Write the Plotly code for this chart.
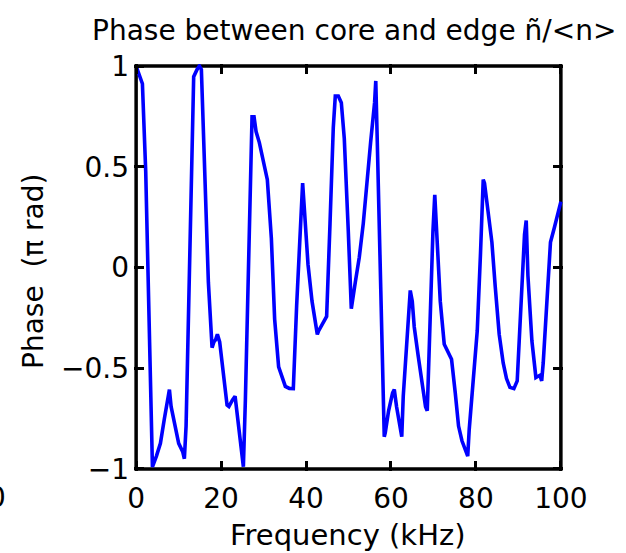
import plotly.graph_objects as go

# Frequency (kHz) and phase (pi rad)
freq_khz = [0, 0.54, 1.48, 2.26, 3.13, 3.84, 4.78, 5.72, 6.66, 7.44, 7.84, 8.24, 9.25, 10.02,
            10.96, 11.36, 11.76, 12.61, 13.55, 14.35, 14.89, 15.36, 16.05, 17.01, 17.88, 18.31,
            18.73, 19.13, 19.67, 20.47, 21.41, 21.84, 22.19, 22.66, 23.3, 23.91, 24.85, 25.25,
            25.72, 26.49, 27.29, 27.76, 28.24, 29.01, 29.95, 30.89, 31.84, 32.61, 33.55, 34.49,
            35.13, 36.07, 37.01, 37.79, 38.73, 39.2, 39.67, 40.47, 41.41, 42.19, 42.66, 42.96,
            43.91, 44.85, 45.65, 46.42, 46.89, 47.6, 48.31, 49.01, 49.95, 50.66, 51.6, 52.54,
            53.48, 54.26, 55.2, 56.14, 56.42, 56.78, 57.72, 58.42, 58.66, 59.44, 60.38, 60.78,
            61.32, 62.12, 62.54, 62.89, 63.84, 64.54, 65.01, 65.48, 66.42, 67.36, 68.14, 68.54,
            69.08, 69.88, 70.31, 70.82, 71.6, 72.54, 73.32, 74.26, 75.13, 75.91, 76.71, 77.65,
            78.07, 78.42, 79.36, 80.31, 81.08, 81.72, 82.02, 82.82, 83.76, 84.54, 85.48, 86.42,
            87.2, 88.0, 88.94, 89.72, 90.66, 91.44, 91.84, 92.24, 93.18, 94.12, 95.06, 95.48,
            95.84, 96.78, 97.55, 98.49, 99.44, 100.0]
phase = [1.0, 0.967, 0.912, 0.477, -0.348, -0.99, -0.936, -0.873, -0.749, -0.639, -0.606, -0.691,
         -0.804, -0.873, -0.914, -0.949, -0.787, 0.089, 0.947, 0.983, 1.0, 0.983, 0.546, -0.073,
         -0.398, -0.37, -0.358, -0.332, -0.369, -0.526, -0.683, -0.69, -0.674, -0.658, -0.639,
         -0.749, -0.898, -0.989, -0.658, 0.109, 0.748, 0.748, 0.675, 0.62, 0.53, 0.436, 0.145,
         -0.256, -0.493, -0.551, -0.59, -0.6, -0.601, -0.19, 0.254, 0.419, 0.271, 0.015, -0.167,
         -0.256, -0.332, -0.315, -0.28, -0.243, 0.219, 0.695, 0.851, 0.851, 0.818, 0.64, 0.18,
         -0.205, -0.073, 0.051, 0.219, 0.419, 0.62, 0.818, 0.926, 0.62, -0.147, -0.84, -0.82,
         -0.711, -0.622, -0.606, -0.691, -0.804, -0.84, -0.639, -0.315, -0.114, -0.167, -0.295,
         -0.441, -0.563, -0.691, -0.711, -0.295, 0.18, 0.361, 0.167, -0.167, -0.381, -0.419,
         -0.455, -0.622, -0.787, -0.86, -0.914, -0.936, -0.804, -0.584, -0.315, 0.071, 0.436,
         0.419, 0.271, 0.125, -0.094, -0.332, -0.474, -0.551, -0.595, -0.601, -0.563, -0.205,
         0.163, 0.233, -0.04, -0.365, -0.546, -0.535, -0.563, -0.474, -0.167, 0.125, 0.2, 0.271,
         0.327]

x_ticks = [0, 20, 40, 60, 80, 100]
x_tick_labels = ["0", "20", "40", "60", "80", "100"]
y_ticks = [-1, -0.5, 0, 0.5, 1]
y_tick_labels = ["\u22121", "\u22120.5", "0", "0.5", "1"]

FONT = "DejaVu Sans"
L, R, T, B = 134, 63, 64, 82
W, H = 626, 553
PW, PH = W - L - R, H - T - B

def px(xp):
    return (xp - L) / PW

def py(yp):
    return (H - B - yp) / PH

fig = go.Figure()
fig.add_trace(go.Scatter(x=freq_khz, y=phase, mode="lines",
                         line=dict(color="#0000FF", width=3.6), showlegend=False))

fig.add_shape(type="rect", xref="x", yref="y", x0=0, x1=100, y0=-1, y1=1,
              line=dict(color="black", width=3.5), layer="below")

axis_common = dict(showgrid=False, zeroline=False, showline=False,
                   ticks="inside", ticklen=10, tickwidth=3, tickcolor="black",
                   mirror="ticks", tickfont=dict(family=FONT, size=28, color="black"))

fig.update_xaxes(range=[-0.5, 100.5], tickvals=x_ticks, ticktext=x_tick_labels,
                 ticklabelstandoff=8, **axis_common)
fig.update_yaxes(range=[-1.01, 1.01], tickvals=y_ticks, ticktext=y_tick_labels,
                 ticklabelstandoff=4, **axis_common)

fig.add_annotation(text="Phase between core and edge \u00f1/<n>".replace("<", "&lt;").replace(">", "&gt;"),
                   xref="paper", yref="paper", x=px(354), y=py(30),
                   xanchor="center", yanchor="middle", showarrow=False,
                   font=dict(family=FONT, size=28, color="black"))
fig.add_annotation(text="Frequency (kHz)", xref="paper", yref="paper",
                   x=px(347.5), y=py(535), xanchor="center", yanchor="middle",
                   showarrow=False, font=dict(family=FONT, size=29, color="black"))
fig.add_annotation(text="Phase  (\u03c0 rad)", xref="paper", yref="paper",
                   x=px(33), y=py(272), xanchor="center", yanchor="middle",
                   textangle=-90, showarrow=False,
                   font=dict(family=FONT, size=28, color="black"))
fig.add_annotation(text="0", xref="paper", yref="paper",
                   x=px(-3), y=py(497), xanchor="center", yanchor="middle",
                   showarrow=False, font=dict(family=FONT, size=28, color="black"))

fig.update_layout(width=W, height=H, margin=dict(l=L, r=R, t=T, b=B, pad=0),
                  paper_bgcolor="white", plot_bgcolor="white")

fig.write_html("out.html")
